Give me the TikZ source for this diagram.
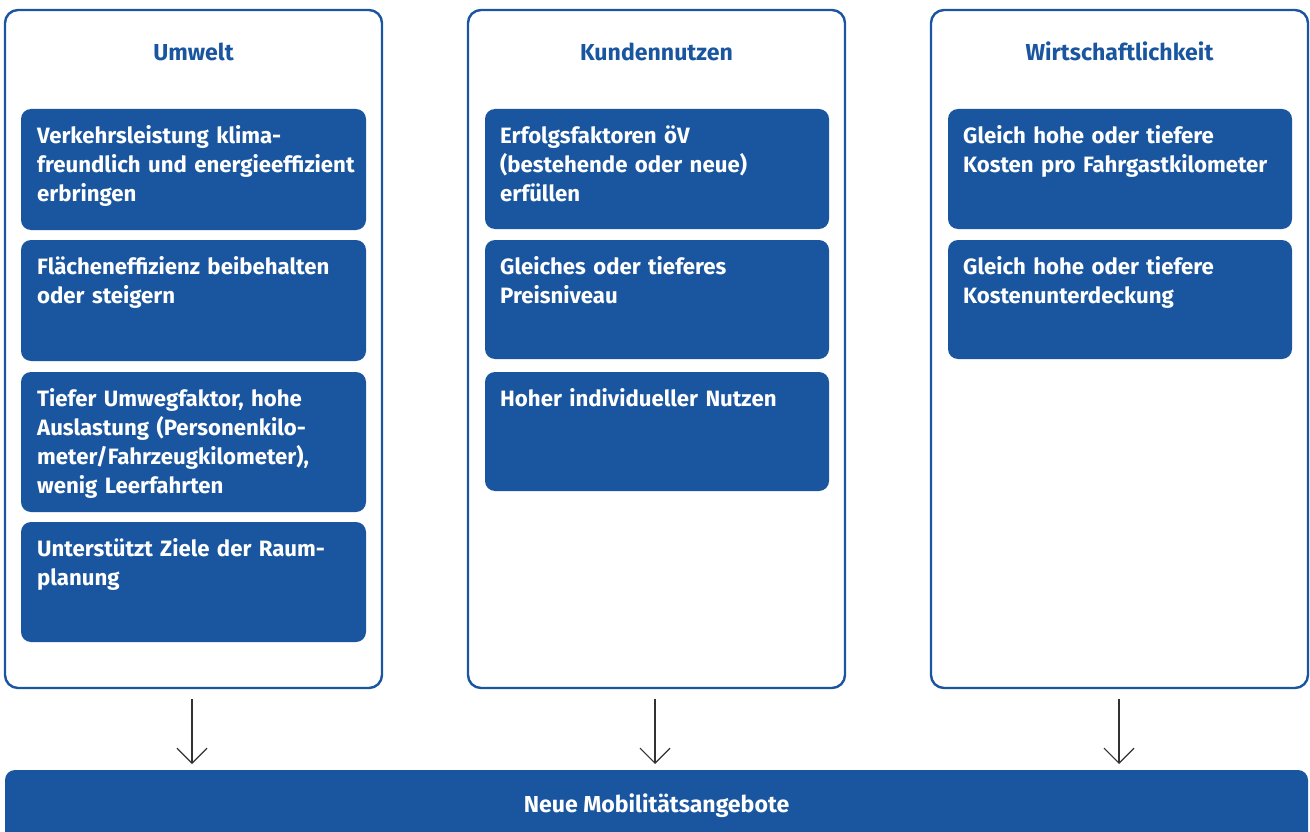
\documentclass[tikz,border=0pt]{standalone}
\usepackage{fontspec}
\setmainfont{Fira Sans}
\usetikzlibrary{arrows.meta}
\definecolor{cblue}{RGB}{26,86,160}
\definecolor{carrow}{RGB}{50,50,50}
\tikzset{
  panel/.style={draw=cblue, line width=2.4pt, rounded corners=13pt, fill=white},
  item/.style={fill=cblue, draw=none, rounded corners=10pt},
  itemtext/.style={anchor=base west, inner sep=0pt, text width=330pt, align=left,
     text=white, font=\bfseries\fontsize{22.2}{29}\selectfont},
  title/.style={anchor=base, inner sep=0pt, text=cblue, font=\bfseries\fontsize{23.1}{29}\selectfont},
  flow/.style={draw=carrow, line width=1.2pt, -{Straight Barb[length=15pt,width=30pt,line width=1.2pt]}},
}
\begin{document}
\begin{tikzpicture}[x=1pt,y=-1pt]
\useasboundingbox (0,0) rectangle (1310,832);
% panels
\draw[panel] (5,10) rectangle (382,688);
\draw[panel] (468,10) rectangle (845,688);
\draw[panel] (931,10) rectangle (1308,688);
\coordinate (p1) at (193.5,699);
\coordinate (p2) at (656.5,699);
\coordinate (p3) at (1119.5,699);
% titles
\node[title] (t1) at (193.5,61) {Umwelt};
\node[title] (t2) at (656.5,61) {Kundennutzen};
\node[title] (t3) at (1119.5,61) {Wirtschaftlichkeit};
% left column items
\fill[item] (21,109) rectangle (366,230);
\node[itemtext] (a1) at (37,143.5) {Verkehrsleistung klima-\\freundlich und energieeffizient\\erbringen};
\fill[item] (21,240) rectangle (366,361);
\node[itemtext] (a2) at (37,274.5) {Flächeneffizienz beibehalten\\oder steigern};
\fill[item] (21,372) rectangle (366,512);
\node[itemtext] (a3) at (37,406.5) {Tiefer Umwegfaktor, hohe\\Auslastung (Personenkilo-\\meter/Fahrzeugkilometer),\\wenig Leerfahrten};
\fill[item] (21,522) rectangle (366,642);
\node[itemtext] (a4) at (37,556.5) {Unterstützt Ziele der Raum-\\planung};
% middle column
\fill[item] (485,109) rectangle (829,229);
\node[itemtext] (b1) at (500,143.5) {Erfolgsfaktoren öV\\(bestehende oder neue)\\erfüllen};
\fill[item] (485,240) rectangle (829,359);
\node[itemtext] (b2) at (500,274.5) {Gleiches oder tieferes\\Preisniveau};
\fill[item] (485,372) rectangle (829,491);
\node[itemtext] (b3) at (500,406.5) {Hoher individueller Nutzen};
% right column
\fill[item] (948,109) rectangle (1292,229);
\node[itemtext] (c1) at (963,143.5) {Gleich hohe oder tiefere\\Kosten pro Fahrgastkilometer};
\fill[item] (948,240) rectangle (1292,359);
\node[itemtext] (c2) at (963,274.5) {Gleich hohe oder tiefere\\Kostenunterdeckung};
% bottom bar
\fill[item] (5,770) rectangle (1308,850);
\node[anchor=base, inner sep=0pt, text=white, font=\bfseries\fontsize{23.1}{29}\selectfont] (bar) at (656.5,812) {Neue Mobilitätsangebote};
\coordinate (q1) at (192,764);
\coordinate (q2) at (655,764);
\coordinate (q3) at (1119,764);
% arrows
\draw[flow] (p1 -| q1) -- (q1);
\draw[flow] (p2 -| q2) -- (q2);
\draw[flow] (p3 -| q3) -- (q3);
\end{tikzpicture}
\end{document}
